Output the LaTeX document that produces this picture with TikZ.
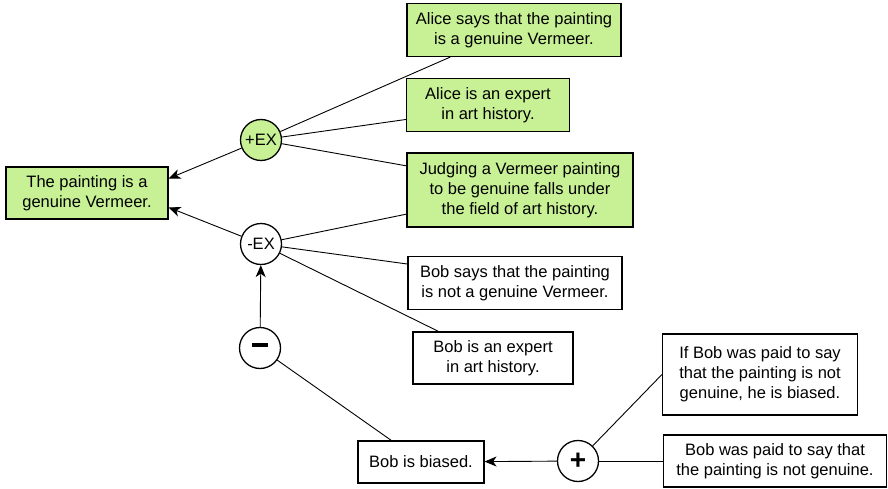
\documentclass[tikz,border=0pt]{standalone}
\usepackage{fontspec}
\setmainfont{Liberation Sans}
\usetikzlibrary{arrows.meta}
\definecolor{argreen}{RGB}{200,241,150}

\begin{document}
\begin{tikzpicture}[x=1pt,y=-1pt,
  every node/.style={draw,line width=1.1pt,align=center,font=\fontsize{16.5}{20}\selectfont},
  claim/.style={rectangle,inner sep=2pt},
  pro/.style={claim,fill=argreen},
  op/.style={circle,minimum size=41pt,inner sep=0pt,line width=1.3pt,font=\fontsize{16.5}{18}\selectfont},
  sign/.style={op,font=\fontsize{28}{28}\bfseries},
  edge/.style={line width=0.9pt},
  arr/.style={edge,-{Stealth[length=12pt,width=10pt,inset=3.5pt]}}]
  \useasboundingbox (0,0) rectangle (888,489);
  % claims
  \node[pro,minimum width=162pt,minimum height=52pt] (root) at (87,193) {The painting is a\\genuine Vermeer.};
  \node[pro,minimum width=214pt,minimum height=53pt] (alicesays) at (514,30) {Alice says that the painting\\is a genuine Vermeer.};
  \node[pro,minimum width=163pt,minimum height=53pt] (aliceexp) at (488,105) {Alice is an expert\\in art history.};
  \node[pro,minimum width=226pt,minimum height=74pt] (judging) at (520,190) {Judging a Vermeer painting\\to be genuine falls under\\the field of art history.};
  \node[claim,minimum width=214pt,minimum height=53pt] (bobsays) at (515,283) {Bob says that the painting\\is not a genuine Vermeer.};
  \node[claim,minimum width=160pt,minimum height=52pt] (bobexp) at (493,358) {Bob is an expert\\in art history.};
  \node[claim,minimum width=195pt,minimum height=81pt] (ifpaid) at (760,374.5) {If Bob was paid to say\\that the painting is not\\genuine, he is biased.};
  \node[claim,minimum width=223pt,minimum height=52pt] (waspaid) at (775,461) {Bob was paid to say that\\the painting is not genuine.};
  \node[claim,minimum width=126pt,minimum height=42pt] (biased) at (421,462) {Bob is biased.};
  % schemes
  \node[op,fill=argreen] (proex) at (261,140) {+EX};
  \node[op] (conex) at (261,244) {-EX};
  \node[sign] (minus) at (260,348) {\rule[6pt]{16pt}{3.5pt}};
  \node[sign] (plus) at (578,461) {+};
  % connectors
  \draw[arr] (proex) -- (root.10);
  \draw[arr] (conex) -- (root.-10);
  \draw[edge] (proex) -- (alicesays.203);
  \draw[edge] (proex) -- (aliceexp.190);
  \draw[edge] (proex) -- (judging.168);
  \draw[edge] (conex) -- (judging.192);
  \draw[edge] (conex) -- (bobsays.170);
  \draw[edge] (conex) -- (bobexp.154);
  \draw[arr] (minus) -- (conex);
  \draw[edge] (minus) -- (biased.144);
  \draw[arr] (plus) -- (biased);
  \draw[edge] (ifpaid.west) -- (plus);
  \draw[edge] (waspaid) -- (plus);
\end{tikzpicture}
\end{document}
